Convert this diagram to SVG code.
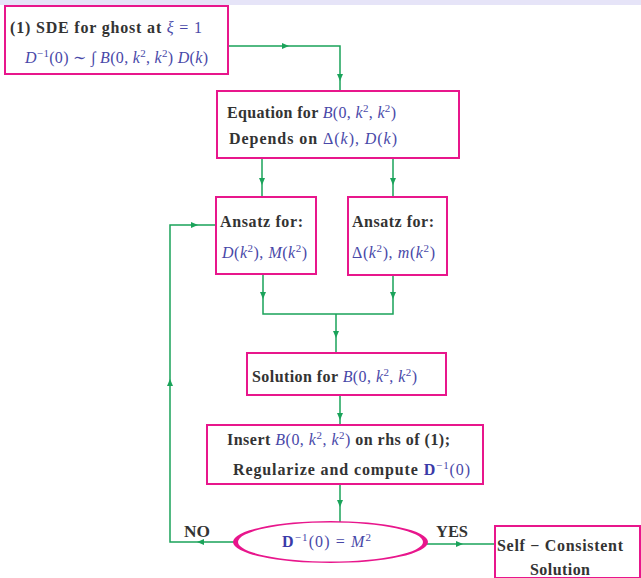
<svg xmlns="http://www.w3.org/2000/svg" xmlns:xlink="http://www.w3.org/1999/xlink" width="641" height="578" viewBox="0 0 641 578">
<style>
.box{fill:#fff;stroke:#e8168c;stroke-width:2}
.ln{fill:none;stroke:#1aa35a;stroke-width:1.5}
.t{font-family:"Liberation Serif","DejaVu Serif",serif;font-size:16px;font-weight:bold;fill:#333}
.mi{font-style:italic;font-weight:normal;fill:#4848a8}
.mr{font-style:normal;font-weight:normal;fill:#4848a8}
.mb{font-style:normal;font-weight:bold;fill:#3a3aa8}
.sp{font-size:11px;font-style:normal;font-weight:normal;fill:#4848a8}
</style>
<defs>
<path id="ah" d="M4,0 L-3,-3 L-3,3 Z" fill="#1aa35a"/>
</defs>
<rect x="0" y="0" width="641" height="5" fill="#e6e4f8"/>

<g id="connectors">
<path class="ln" d="M228,46 H340 V91"/>
<path class="ln" d="M262,159 V197"/>
<path class="ln" d="M393,159 V197"/>
<path class="ln" d="M263,274 V314 H393 V275"/>
<path class="ln" d="M336,314 V353"/>
<path class="ln" d="M340,395 V425"/>
<path class="ln" d="M340,484 V522"/>
<path class="ln" d="M234,542 H170 V225 H216"/>
<path class="ln" d="M427,544 H495"/>
<use xlink:href="#ah" transform="translate(285,46)"/>
<use xlink:href="#ah" transform="translate(340,77) rotate(90)"/>
<use xlink:href="#ah" transform="translate(262,181) rotate(90)"/>
<use xlink:href="#ah" transform="translate(393,181) rotate(90)"/>
<use xlink:href="#ah" transform="translate(263,295) rotate(90)"/>
<use xlink:href="#ah" transform="translate(393,295) rotate(90)"/>
<use xlink:href="#ah" transform="translate(336,334) rotate(90)"/>
<use xlink:href="#ah" transform="translate(340,416) rotate(90)"/>
<use xlink:href="#ah" transform="translate(340,503) rotate(90)"/>
<use xlink:href="#ah" transform="translate(201,542) rotate(180)"/>
<use xlink:href="#ah" transform="translate(170,383) rotate(-90)"/>
<use xlink:href="#ah" transform="translate(194,225)"/>
<use xlink:href="#ah" transform="translate(459,544)"/>
<text class="t" x="184" y="537" textLength="26" lengthAdjust="spacingAndGlyphs">NO</text>
<text class="t" x="436" y="537" textLength="32" lengthAdjust="spacingAndGlyphs">YES</text>
</g>

<g id="sde">
<rect class="box" x="5" y="6" width="223" height="68"/>
<text class="t" x="10" y="33" textLength="192" lengthAdjust="spacing">(1) SDE for ghost at <tspan class="mi">ξ</tspan><tspan class="mr"> = 1</tspan></text>
<text class="t" x="25" y="63" textLength="183" lengthAdjust="spacing"><tspan class="mi">D</tspan><tspan class="sp" dy="-6">−1</tspan><tspan class="mr" dy="6">(0) ∼ ∫ </tspan><tspan class="mi">B</tspan><tspan class="mr">(0, </tspan><tspan class="mi">k</tspan><tspan class="sp" dy="-6">2</tspan><tspan class="mr" dy="6">, </tspan><tspan class="mi">k</tspan><tspan class="sp" dy="-6">2</tspan><tspan class="mr" dy="6">) </tspan><tspan class="mi">D</tspan><tspan class="mr">(</tspan><tspan class="mi">k</tspan><tspan class="mr">)</tspan></text>
</g>

<g id="equation">
<rect class="box" x="217" y="91" width="242" height="67"/>
<text class="t" x="227" y="118" textLength="169" lengthAdjust="spacing">Equation for <tspan class="mi">B</tspan><tspan class="mr">(0, </tspan><tspan class="mi">k</tspan><tspan class="sp" dy="-6">2</tspan><tspan class="mr" dy="6">, </tspan><tspan class="mi">k</tspan><tspan class="sp" dy="-6">2</tspan><tspan class="mr" dy="6">)</tspan></text>
<text class="t" x="229" y="144" textLength="168" lengthAdjust="spacing">Depends on <tspan class="mr">Δ(</tspan><tspan class="mi">k</tspan><tspan class="mr">),  </tspan><tspan class="mi">D</tspan><tspan class="mr">(</tspan><tspan class="mi">k</tspan><tspan class="mr">)</tspan></text>
</g>

<g id="ansatz1">
<rect class="box" x="216" y="197" width="100" height="77"/>
<text class="t" x="220" y="227" textLength="83" lengthAdjust="spacing">Ansatz for:</text>
<text class="t" x="222" y="258" textLength="85" lengthAdjust="spacing"><tspan class="mi">D</tspan><tspan class="mr">(</tspan><tspan class="mi">k</tspan><tspan class="sp" dy="-6">2</tspan><tspan class="mr" dy="6">), </tspan><tspan class="mi">M</tspan><tspan class="mr">(</tspan><tspan class="mi">k</tspan><tspan class="sp" dy="-6">2</tspan><tspan class="mr" dy="6">)</tspan></text>
</g>

<g id="ansatz2">
<rect class="box" x="348" y="197" width="99" height="78"/>
<text class="t" x="352" y="227" textLength="82" lengthAdjust="spacing">Ansatz for:</text>
<text class="t" x="352" y="258" textLength="83" lengthAdjust="spacing"><tspan class="mr">Δ(</tspan><tspan class="mi">k</tspan><tspan class="sp" dy="-6">2</tspan><tspan class="mr" dy="6">), </tspan><tspan class="mi">m</tspan><tspan class="mr">(</tspan><tspan class="mi">k</tspan><tspan class="sp" dy="-6">2</tspan><tspan class="mr" dy="6">)</tspan></text>
</g>

<g id="solution">
<rect class="box" x="247" y="353" width="199" height="42"/>
<text class="t" x="252" y="382" textLength="165" lengthAdjust="spacing">Solution for <tspan class="mi">B</tspan><tspan class="mr">(0, </tspan><tspan class="mi">k</tspan><tspan class="sp" dy="-6">2</tspan><tspan class="mr" dy="6">, </tspan><tspan class="mi">k</tspan><tspan class="sp" dy="-6">2</tspan><tspan class="mr" dy="6">)</tspan></text>
</g>

<g id="insert">
<rect class="box" x="207" y="425" width="276" height="59"/>
<text class="t" x="227" y="445" textLength="223" lengthAdjust="spacing">Insert <tspan class="mi">B</tspan><tspan class="mr">(0, </tspan><tspan class="mi">k</tspan><tspan class="sp" dy="-6">2</tspan><tspan class="mr" dy="6">, </tspan><tspan class="mi">k</tspan><tspan class="sp" dy="-6">2</tspan><tspan class="mr" dy="6">)</tspan> on rhs of (1);</text>
<text class="t" x="233" y="475" textLength="237" lengthAdjust="spacing">Regularize and compute  <tspan class="mb">D</tspan><tspan class="sp" dy="-6">−1</tspan><tspan class="mr" dy="6">(0)</tspan></text>
</g>

<g id="check">
<path d="M233,542 a97.5,21 0 1,0 195,0 a97.5,21 0 1,0 -195,0 Z M238,542 a92.5,19.5 0 1,0 185,0 a92.5,19.5 0 1,0 -185,0 Z" fill="#e8168c" fill-rule="evenodd"/>
<text class="t" x="282" y="547" textLength="89" lengthAdjust="spacing"><tspan class="mb">D</tspan><tspan class="sp" dy="-6">−1</tspan><tspan class="mr" dy="6">(0) = </tspan><tspan class="mi">M</tspan><tspan class="sp" dy="-6">2</tspan></text>
</g>

<g id="result">
<rect class="box" x="495" y="526" width="145" height="52"/>
<text class="t" x="497" y="551" textLength="126" lengthAdjust="spacing">Self − Consistent</text>
<text class="t" x="530" y="575" textLength="60" lengthAdjust="spacing">Solution</text>
</g>
</svg>
